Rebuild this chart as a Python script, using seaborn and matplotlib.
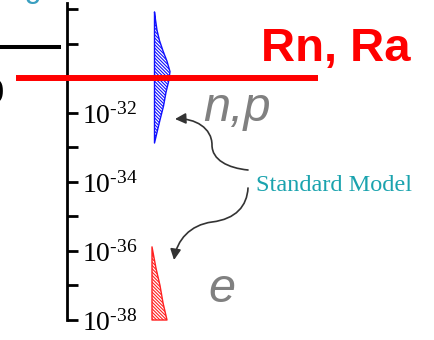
import numpy as np
import pandas as pd
import matplotlib.pyplot as plt
import seaborn as sns
from matplotlib.patches import FancyArrowPatch
from matplotlib.path import Path

# exponents of the EDM scale (10^n)
exp_ticks = list(range(-38, -28))
exp_labeled = [-38, -36, -34, -32]

# experimental limits (exponent)
rn_ra_limit = -31.0
old_limit = -30.1

# Standard Model predictions: exponent vs relative width of the spread
np_sm_exp = [-29.07, -29.3, -29.6, -29.9, -30.2, -30.5, -30.8, -31.1, -31.4, -31.8, -32.2, -32.5, -32.87]
np_sm_width = [0, 1, 2.5, 5, 8.5, 12.5, 15.5, 14, 11.5, 9, 5.5, 3, 0]
e_sm_exp = [-35.88, -36.5, -37.0, -37.5, -38.0]
e_sm_width = [0, 4, 8, 11, 15]

sns.set_style('white')
plt.rcParams['font.family'] = ['Liberation Sans', 'DejaVu Sans']
plt.rcParams['mathtext.fontset'] = 'custom'
plt.rcParams['mathtext.rm'] = 'Liberation Serif'
plt.rcParams['mathtext.it'] = 'Liberation Serif:italic'
plt.rcParams['hatch.linewidth'] = 0.8

fig = plt.figure(figsize=(4.34, 3.4), dpi=100)
ax = fig.add_axes([0, 0, 1, 1])
ax.set_xlim(0, 434)
px = 34.5  # pixels per decade
ax.set_ylim(-38 - 20 / px, -38 + 320 / px)

# limit lines
lines = pd.DataFrame({
    'x': [0, 61, 16, 318],
    'y': [old_limit, old_limit, rn_ra_limit, rn_ra_limit],
    'kind': ['old', 'old', 'rn', 'rn'],
})
sns.lineplot(data=lines[lines.kind == 'old'], x='x', y='y', color='black',
             lw=2.9, ax=ax, zorder=2, solid_capstyle='butt')
sns.lineplot(data=lines[lines.kind == 'rn'], x='x', y='y', color='#ff0000',
             lw=4.3, ax=ax, zorder=6, solid_capstyle='butt')

# SM spreads
hatch = '\\' * 10
base_np = 154.5
ax.fill_betweenx(np_sm_exp, base_np, base_np + np.array(np_sm_width),
                 facecolor='white', edgecolor='#1010ff', hatch=hatch,
                 lw=1.0, zorder=3)
base_e = 152
ax.fill_betweenx(e_sm_exp, base_e, base_e + np.array(e_sm_width),
                 facecolor='white', edgecolor='#ff2020', hatch=hatch,
                 lw=1.0, zorder=3)

# axis
for s in ['left', 'top', 'bottom']:
    ax.spines[s].set_visible(False)
ax.spines['right'].set_position(('data', 66.5))
ax.spines['right'].set_bounds(-38, -38 + 317 / px)
ax.spines['right'].set_linewidth(2)
ax.spines['right'].set_color('black')
ax.yaxis.tick_right()
ax.set_xticks([])
ax.set_yticks(exp_ticks)
ax.set_yticklabels(['$10^{\\text{-}%d}$' % abs(e) if e in exp_labeled else ''
                    for e in exp_ticks])
ax.tick_params(axis='y', direction='out', length=8, width=2, pad=3.5,
               labelsize=20, colors='black')
ax.set_xlabel('')
ax.set_ylabel('')

# labels
ax.text(261, -30.49, 'Rn, Ra', color='#ff0000', fontsize=34, fontweight='bold',
        ha='left', va='baseline')
ax.text(203, -32.23, 'n,p', color='#808080', fontsize=35, style='italic',
        ha='left', va='baseline')
ax.text(208, -37.48, 'e', color='#808080', fontsize=35, style='italic',
        ha='left', va='baseline')
ax.text(256, -34.26, 'Standard Model', color='#1aa3ae', fontsize=17.5,
        family='Liberation Serif', ha='left', va='baseline')
ax.text(18, -28.64, 'ig', color='#3a9fc0', fontsize=22, ha='left', va='baseline')
ax.text(4, -31.7, 'p', color='black', fontsize=32, ha='right', va='baseline')

# curved arrows from the SM label
def ey(p):
    return -38 + (320 - p) / px

arrow_paths = [
    [(248, 170), (228, 168), (212, 160), (212, 145),
     (212, 128), (195, 118), (175, 119)],
    [(248, 188), (247, 206), (236, 219), (212, 222),
     (190, 225), (177, 240), (174, 260)],
]
for pts in arrow_paths:
    verts = [(x, ey(y)) for x, y in pts]
    codes = [Path.MOVETO] + [Path.CURVE4] * 6
    arr = FancyArrowPatch(path=Path(verts, codes), arrowstyle='-|>',
                          mutation_scale=16, color='#333333', lw=1.2,
                          shrinkA=0, shrinkB=0, zorder=4)
    ax.add_patch(arr)

fig.savefig('out.png', dpi=100)
